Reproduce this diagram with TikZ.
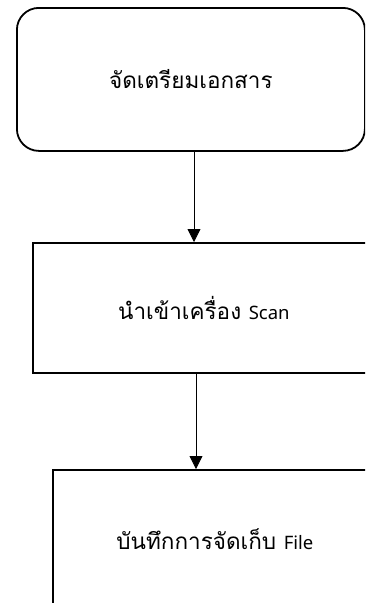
\documentclass[tikz,border=0pt]{standalone}
\usepackage{fontspec}
\newfontfamily\thaifont[Script=Thai]{Loma}
\newfontfamily\latinfont{Noto Sans}
\usetikzlibrary{arrows.meta}
\begin{document}
\begin{tikzpicture}[x=1pt,y=1pt,
  stepbox/.style={draw=black, line width=1.8pt, fill=white, anchor=north west,
    inner sep=0pt, align=center, font=\thaifont\fontsize{22.5pt}{26pt}\selectfont},
  arr/.style={draw=black, line width=0.8pt, -{Triangle[width=13pt,length=13pt]}}]
\useasboundingbox (0,0) rectangle (365,-603);
\clip (0,0) rectangle (365,-603);
\node[stepbox, rounded corners=22pt, minimum width=348pt, minimum height=143pt] (b1) at (16,-7) {จัดเตรียมเอกสาร};
\node[stepbox, minimum width=342pt, minimum height=130pt] (b2) at (32,-242) {นำเข้าเครื่อง {\latinfont\fontsize{18.5pt}{26pt}\selectfont Scan}};
\node[stepbox, minimum width=324pt, minimum height=138pt] (b3) at (52,-469) {บันทึกการจัดเก็บ {\latinfont\fontsize{18.5pt}{26pt}\selectfont File}};
\coordinate (c1) at (194,0);
\coordinate (c2) at (196,0);
\draw[arr] (b1.south -| c1) -- (b2.north -| c1);
\draw[arr] (b2.south -| c2) -- (b3.north -| c2);
\end{tikzpicture}
\end{document}
